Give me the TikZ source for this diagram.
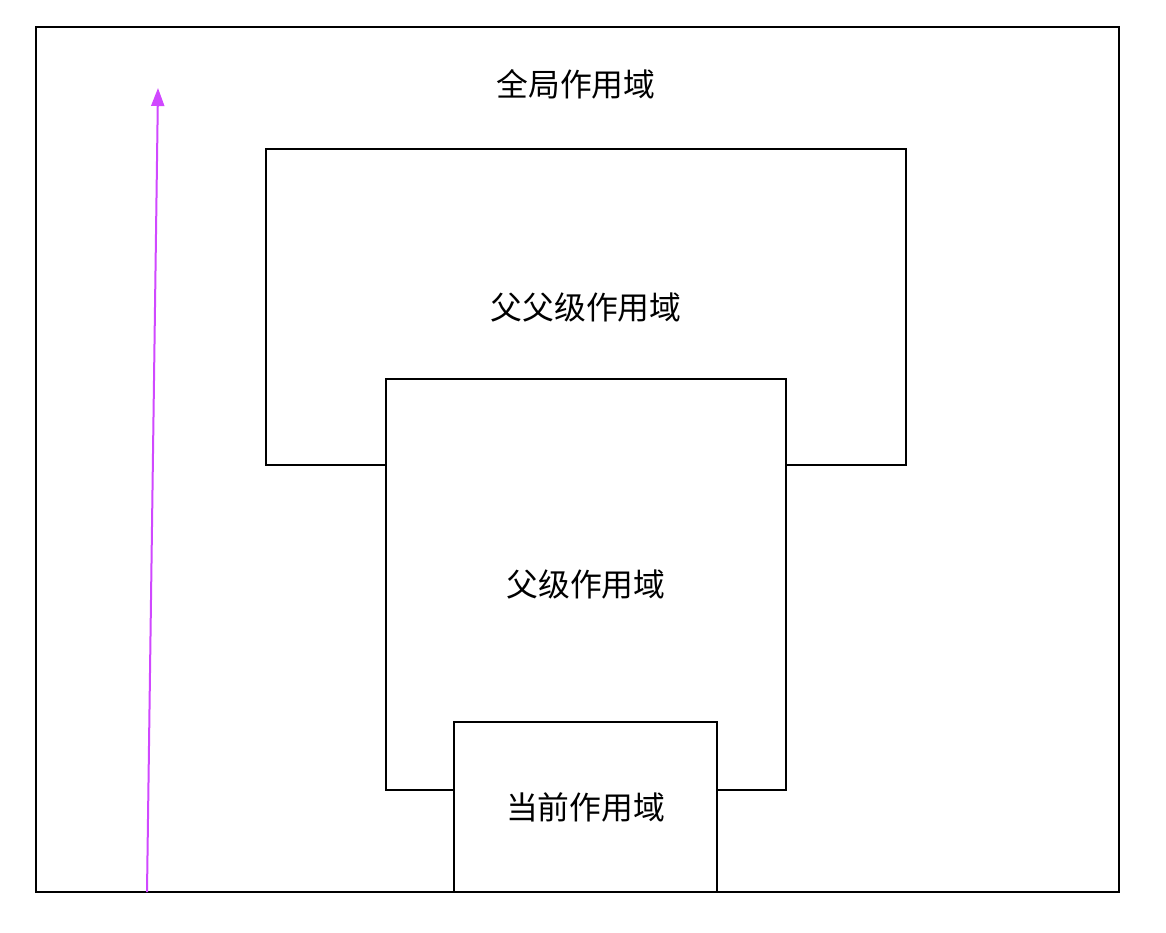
\documentclass[tikz,border=0pt]{standalone}
\usepackage{fontspec}
\setmainfont{Noto Sans CJK SC}
\usetikzlibrary{arrows.meta}
\definecolor{arrowmag}{RGB}{208,72,255}
\tikzset{
  scopebox/.style={draw, fill=white, line width=1pt, inner sep=0pt, anchor=north west},
  scopetext/.style={font=\fontsize{15.9}{18}\selectfont}
}

\begin{document}
\begin{tikzpicture}[x=0.5pt, y=-0.5pt]
  \useasboundingbox (0,0) rectangle (1166,932);
  \node[scopebox, minimum width=541.5pt, minimum height=432.5pt] (global) at (35,26) {};
  \node[scopebox, minimum width=320pt, minimum height=158pt] (grand) at (265,148) {};
  \node[scopebox, minimum width=200pt, minimum height=205.5pt] (parent) at (385,378) {};
  \node[scopebox, minimum width=131.5pt, minimum height=85pt] (current) at (453,721) {};

  \node[scopetext] (globaltext) at (576,84) {全局作用域};
  \node[scopetext] at (grand.center) {父父级作用域};
  \node[scopetext] at (parent.center) {父级作用域};
  \node[scopetext] at (current.center) {当前作用域};

  \coordinate (start) at (147,892);
  \coordinate (tip) at (158,88);
  \draw[arrowmag, line width=1pt, -{Triangle[width=6.5pt, length=9pt]}] (start) -- (tip);
\end{tikzpicture}
\end{document}
